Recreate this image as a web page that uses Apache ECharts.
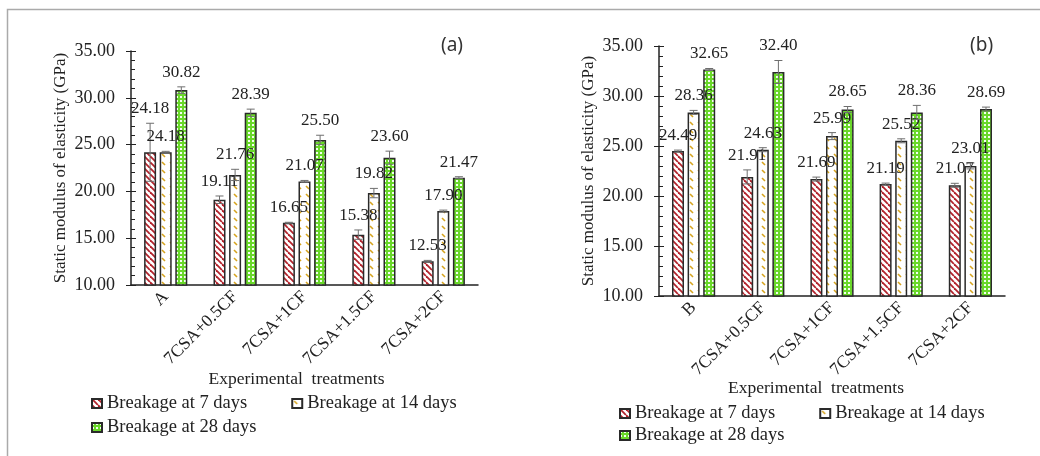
<!DOCTYPE html>
<html>
<head>
<meta charset="utf-8">
<script src="https://cdn.jsdelivr.net/npm/echarts@6/dist/echarts.min.js"></script>
<style>
  html, body { margin: 0; padding: 0; background: #fff; }
  #chart { width: 1040px; height: 456px; }
</style>
</head>
<body>
<div id="chart"></div>
<script>
// categories
const categoriesA = ['A', '7CSA+0.5CF', '7CSA+1CF', '7CSA+1.5CF', '7CSA+2CF'];
const categoriesB = ['B', '7CSA+0.5CF', '7CSA+1CF', '7CSA+1.5CF', '7CSA+2CF'];
const seriesNames = ['Breakage at 7 days', 'Breakage at 14 days', 'Breakage at 28 days'];

// panel (a) values and error bars (GPa)
const a7 = [24.18, 19.11, 16.65, 15.38, 12.53];
const a14 = [24.18, 21.76, 21.07, 19.82, 17.90];
const a28 = [30.82, 28.39, 25.50, 23.60, 21.47];
const a7Err = [3.1, 0.4, 0.05, 0.5, 0.1];
const a14Err = [0.1, 0.6, 0.1, 0.5, 0.1];
const a28Err = [0.35, 0.4, 0.5, 0.7, 0.1];

// panel (b) values and error bars (GPa)
const b7 = [24.49, 21.91, 21.69, 21.19, 21.07];
const b14 = [28.36, 24.63, 25.99, 25.52, 23.01];
const b28 = [32.65, 32.40, 28.65, 28.36, 28.69];
const b7Err = [0.1, 0.7, 0.2, 0.1, 0.2];
const b14Err = [0.2, 0.2, 0.35, 0.2, 0.3];
const b28Err = [0.1, 1.15, 0.3, 0.7, 0.2];

const yTicks = { min: 10, max: 35, interval: 5 };

const SERIF = 'Liberation Serif';
const BAR_W = 12;
const BAR_GAP = '30%';

function makePattern(kind) {
    const c = document.createElement('canvas');
    const ctx = c.getContext('2d');
    if (kind === 'red') {
        c.width = c.height = 6;
        ctx.fillStyle = '#fff';
        ctx.fillRect(0, 0, 6, 6);
        ctx.strokeStyle = '#b3232c';
        ctx.lineWidth = 1.8;
        [-6, 0, 6].forEach(k => {
            ctx.beginPath();
            ctx.moveTo(k, 0);
            ctx.lineTo(k + 6, 6);
            ctx.stroke();
        });
    } else if (kind === 'yellow') {
        c.width = c.height = 8;
        ctx.fillStyle = '#fff';
        ctx.fillRect(0, 0, 8, 8);
        ctx.strokeStyle = '#d6a41f';
        ctx.lineWidth = 1.6;
        ctx.beginPath();
        ctx.moveTo(2, 2);
        ctx.lineTo(5, 5);
        ctx.stroke();
    } else {
        c.width = c.height = 4;
        ctx.fillStyle = '#6ad82a';
        ctx.fillRect(0, 0, 4, 4);
        ctx.fillStyle = '#f4fff0';
        ctx.fillRect(0, 0, 2, 2);
    }
    return { image: c, repeat: 'repeat' };
}

const fills = [makePattern('red'), makePattern('yellow'), makePattern('green')];

function barSeries(idx, values, axis) {
    return {
        name: seriesNames[idx],
        type: 'bar',
        xAxisIndex: axis,
        yAxisIndex: axis * 2,
        data: values,
        barWidth: BAR_W,
        barGap: BAR_GAP,
        itemStyle: {
            color: fills[idx],
            borderColor: '#2a2a2a',
            borderWidth: 1.5
        },
        emphasis: { disabled: true }
    };
}

function errSeries(idx, values, errs, axis) {
    return {
        type: 'custom',
        xAxisIndex: axis,
        yAxisIndex: axis * 2,
        data: values.map((v, i) => [i, v, errs[i]]),
        encode: { x: 0, y: 1 },
        z: 10,
        silent: true,
        renderItem: function (params, api) {
            const layout = api.barLayout({ barWidth: BAR_W, barGap: BAR_GAP, count: 3 });
            const cat = api.value(0);
            const v = api.value(1);
            const e = api.value(2);
            const base = api.coord([cat, v]);
            const x = base[0] + layout[idx].offsetCenter;
            const top = api.coord([cat, v + e])[1];
            const bot = api.coord([cat, v - e])[1];
            const lineStyle = { stroke: '#6e6e6e', lineWidth: 1 };
            return {
                type: 'group',
                children: [
                    { type: 'line', shape: { x1: x, y1: top, x2: x, y2: bot }, style: lineStyle },
                    { type: 'line', shape: { x1: x - 4, y1: top, x2: x + 4, y2: top }, style: lineStyle },
                    { type: 'line', shape: { x1: x - 4, y1: bot, x2: x + 4, y2: bot }, style: lineStyle },
                    {
                        type: 'text',
                        style: {
                            text: v.toFixed(2),
                            x: x,
                            y: top - 6,
                            align: 'center',
                            verticalAlign: 'bottom',
                            fontFamily: SERIF,
                            fontSize: 17,
                            fill: '#222'
                        }
                    }
                ]
            };
        }
    };
}

function mainY(grid, nameGap) {
    return {
        type: 'value',
        gridIndex: grid,
        min: yTicks.min,
        max: yTicks.max,
        interval: yTicks.interval,
        position: 'left',
        name: 'Static modulus of elasticity (GPa)',
        nameLocation: 'middle',
        nameGap: nameGap,
        nameMoveOverlap: false,
        nameTextStyle: { fontFamily: SERIF, fontSize: 17, color: '#222' },
        axisLine: { show: true, lineStyle: { color: '#222', width: 1.5 } },
        axisTick: { show: true, length: 5, lineStyle: { color: '#222' } },
        axisLabel: {
            fontFamily: SERIF, fontSize: 18, color: '#222', margin: 16,
            formatter: v => v.toFixed(2)
        },
        splitLine: { show: false }
    };
}

function tickY(grid) {
    return {
        type: 'value',
        gridIndex: grid,
        min: yTicks.min,
        max: yTicks.max,
        interval: yTicks.interval,
        position: 'left',
        axisLine: { show: false },
        axisTick: { show: true, inside: true, length: 5, lineStyle: { color: '#222' } },
        minorTick: { show: true, splitNumber: 5, length: 4, lineStyle: { color: '#222' } },
        axisLabel: { show: false },
        splitLine: { show: false },
        minorSplitLine: { show: false }
    };
}

function catX(grid, data, nameGap, shift) {
    return {
        type: 'category',
        gridIndex: grid,
        data: data,
        name: 'Experimental  treatments',
        nameLocation: 'middle',
        nameGap: nameGap,
        nameMoveOverlap: false,
        nameTextStyle: { fontFamily: SERIF, fontSize: 17.5, color: '#222', padding: [0, shift * 2, 0, 0] },
        axisLine: { show: true, lineStyle: { color: '#222', width: 1.5 } },
        axisTick: { show: false },
        axisLabel: { rotate: 45, interval: 0, fontFamily: SERIF, fontSize: 17.5, color: '#222', margin: 9 }
    };
}

const legendText = { fontFamily: SERIF, fontSize: 18.5, color: '#222' };
function legend(names, left, top) {
    return {
        data: names, left: left, top: top, itemGap: 44, padding: 0,
        itemWidth: 10, itemHeight: 9, icon: 'rect',
        textStyle: legendText, selectedMode: false
    };
}

const chart = echarts.init(document.getElementById('chart'));
chart.setOption({
    backgroundColor: '#fff',
    animation: false,
    title: [
        { text: '(a)', left: 436, top: 31, textStyle: { fontFamily: 'Noto Sans', fontSize: 19, fontWeight: 'normal', color: '#333' } },
        { text: '(b)', left: 965, top: 31, textStyle: { fontFamily: 'Noto Sans', fontSize: 19, fontWeight: 'normal', color: '#333' } }
    ],
    graphic: [{
        type: 'polyline',
        shape: { points: [[7.5, 456], [7.5, 9.5], [1040, 9.5]] },
        style: { stroke: '#aaaaaa', lineWidth: 1.5, fill: null },
        silent: true
    }],
    legend: [
        legend([seriesNames[0], seriesNames[1]], 91, 394),
        legend([seriesNames[2]], 91, 418),
        legend([seriesNames[0], seriesNames[1]], 619, 404),
        legend([seriesNames[2]], 619, 426)
    ],
    grid: [
        { left: 131, top: 51, width: 347, height: 234 },
        { left: 659, top: 46, width: 346, height: 250 }
    ],
    xAxis: [
        catX(0, categoriesA, 85, 8),
        catX(1, categoriesB, 83, 16)
    ],
    yAxis: [
        mainY(0, 62),
        tickY(0),
        mainY(1, 62),
        tickY(1)
    ],
    series: [
        barSeries(0, a7, 0),
        barSeries(1, a14, 0),
        barSeries(2, a28, 0),
        errSeries(0, a7, a7Err, 0),
        errSeries(1, a14, a14Err, 0),
        errSeries(2, a28, a28Err, 0),
        barSeries(0, b7, 1),
        barSeries(1, b14, 1),
        barSeries(2, b28, 1),
        errSeries(0, b7, b7Err, 1),
        errSeries(1, b14, b14Err, 1),
        errSeries(2, b28, b28Err, 1)
    ]
});
</script>
</body>
</html>
